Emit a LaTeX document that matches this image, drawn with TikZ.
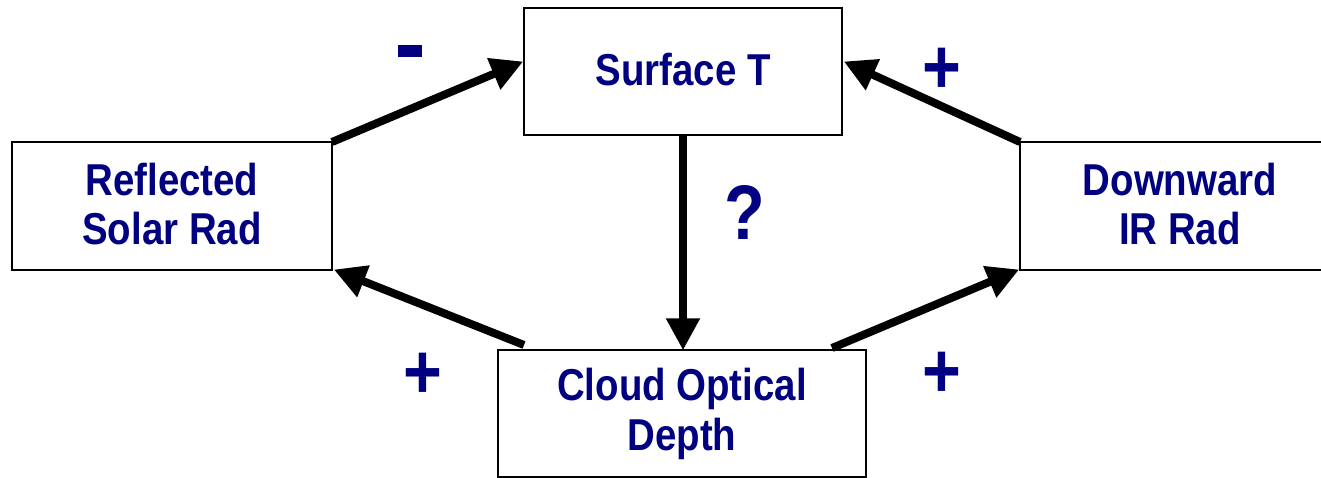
\documentclass[tikz,border=0pt]{standalone}
\usepackage{fontspec}
\setmainfont{Liberation Sans}[FakeStretch=0.86]
\usetikzlibrary{arrows.meta}
\definecolor{navytext}{RGB}{0,0,128}
\tikzset{
  boxnode/.style={draw=black, line width=1.5pt, fill=white, inner sep=0pt},
  boxtext/.style={text=navytext, font=\fontsize{33.5}{37}\selectfont\bfseries, align=center},
  signtext/.style={text=navytext, font=\fontsize{58}{60}\selectfont\bfseries},
  fb/.style={line width=6pt, -{Triangle[length=24pt,width=24pt]}, shorten >=-1pt}
}
\begin{document}
\begin{tikzpicture}[x=0.75pt,y=-0.75pt]
\useasboundingbox (0,0) rectangle (1321,478);
\clip (0,0) rectangle (1321,478);
% boxes
\draw[boxnode] (524,8) rectangle (842,135);
\draw[boxnode] (12,142) rectangle (332,270);
\draw[boxnode] (1020,142) rectangle (1345,270);
\draw[boxnode] (498,350) rectangle (866,477);
\coordinate (stL) at (522,62);
\coordinate (stR) at (845,62);
\coordinate (stB) at (683,135);
\coordinate (rsTR) at (332,142);
\coordinate (rsBR) at (335,270);
\coordinate (irTL) at (1020,142);
\coordinate (irBL) at (1018,270);
\coordinate (cdT) at (683,349);
\coordinate (cdTL) at (524,345);
\coordinate (cdTR) at (832,348);
\node[boxtext] (st) at (683,70) {Surface T};
\node[boxtext] (rs) at (172,204) {Reflected\\Solar Rad};
\node[boxtext] (ir) at (1180,204) {Downward\\IR Rad};
\node[boxtext] (cd) at (682,414) {Cloud Optical\\Depth};
% arrows
\draw[fb] (rsTR) -- (stL);
\draw[fb] (irTL) -- (stR);
\draw[fb] (stB) -- (cdT);
\draw[fb] (cdTL) -- (rsBR);
\draw[fb] (cdTR) -- (irBL);
% signs
\fill[navytext] (398,45) rectangle (422,57);
\node[signtext] (p1) at (942,71) {+};
\node[signtext] (q) at (745,212) {?};
\node[signtext] (p2) at (423,376) {+};
\node[signtext] (p3) at (942,375) {+};
\end{tikzpicture}
\end{document}
